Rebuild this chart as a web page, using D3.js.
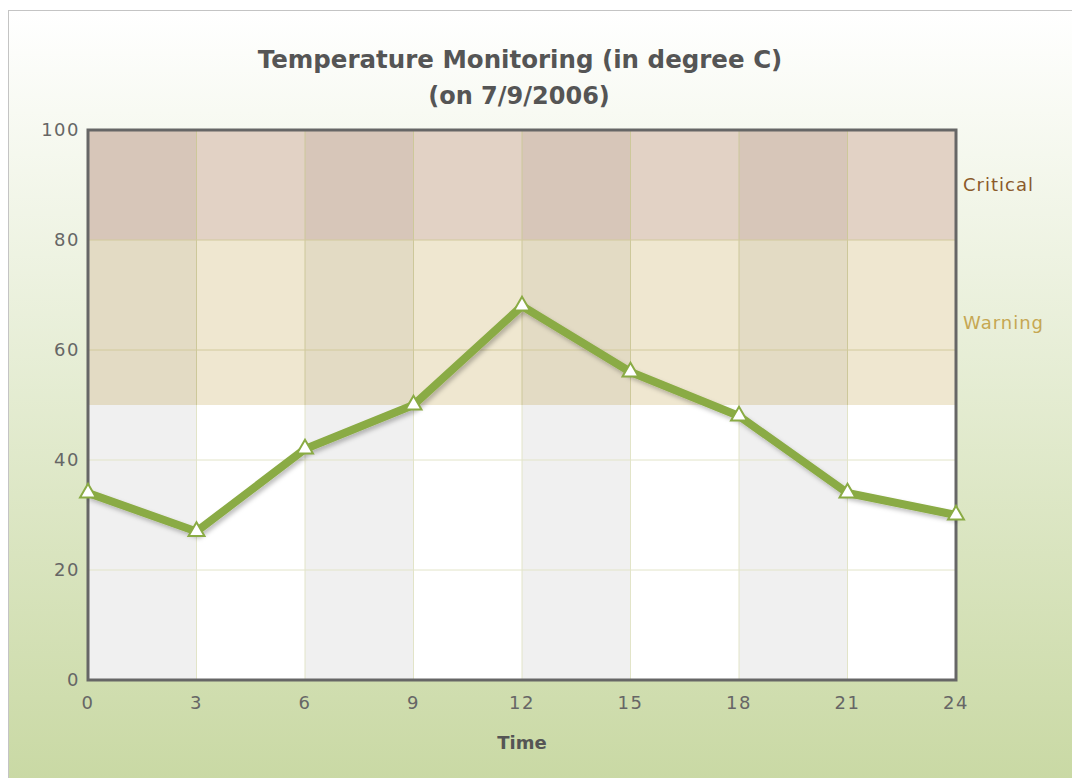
<!DOCTYPE html>
<html>
<head>
<meta charset="utf-8">
<script src="https://cdn.jsdelivr.net/npm/d3@7"></script>
<style>
  body { margin: 0; background: #fff; }
  svg { display: block; }
  text { font-family: "DejaVu Sans", Verdana, sans-serif; }
</style>
</head>
<body>
<svg width="1072" height="778"></svg>
<script>
// data
const hours = [0, 3, 6, 9, 12, 15, 18, 21, 24];
const temps = [34, 27, 42, 50, 68, 56, 48, 34, 30];
const yTicks = [0, 20, 40, 60, 80, 100];
const zones = [
  { name: "Critical", from: 80, to: 100, light: "#e2d2c5", dark: "#d7c6b9", label: "#8b5a2b" },
  { name: "Warning", from: 50, to: 80, light: "#efe7d0", dark: "#e3dbc4", label: "#c6a752" },
  { name: "", from: 0, to: 50, light: "#ffffff", dark: "#f0f0f0", label: "none" }
];
const title = "Temperature Monitoring (in degree C)";
const subtitle = "(on 7/9/2006)";
const xTitle = "Time";

const svg = d3.select("svg");
const W = 1072, H = 778;
const pLeft = 88, pRight = 956, pTop = 130, pBottom = 680;

const x = d3.scaleLinear().domain([0, 24]).range([pLeft, pRight]);
const y = d3.scaleLinear().domain([0, 100]).range([pBottom, pTop]);

// background gradient
const defs = svg.append("defs");
const bg = defs.append("linearGradient").attr("id", "bg").attr("x1", 0).attr("y1", 0).attr("x2", 0).attr("y2", 1);
bg.append("stop").attr("offset", "0%").attr("stop-color", "#ffffff");
bg.append("stop").attr("offset", "100%").attr("stop-color", "#c8d8a2");

const shadow = defs.append("filter").attr("id", "shadow").attr("x", "-10%").attr("y", "-10%").attr("width", "120%").attr("height", "130%");
shadow.append("feDropShadow").attr("dx", 2).attr("dy", 3).attr("stdDeviation", 2).attr("flood-color", "#000").attr("flood-opacity", 0.25);

svg.append("rect").attr("x", 8.5).attr("y", 10.5).attr("width", W + 10).attr("height", H + 10)
  .attr("fill", "url(#bg)").attr("stroke", "#c4c4c4");

// zone cells, alternating columns
const cols = d3.pairs(hours);
zones.forEach(z => {
  svg.append("g").selectAll("rect").data(cols).enter().append("rect")
    .attr("x", d => x(d[0]))
    .attr("y", y(z.to))
    .attr("width", d => x(d[1]) - x(d[0]))
    .attr("height", y(z.from) - y(z.to))
    .attr("fill", (d, i) => i % 2 === 0 ? z.dark : z.light);
});

// grid
svg.append("g").selectAll("line").data(hours.slice(1, -1)).enter().append("line")
  .attr("x1", d => x(d)).attr("x2", d => x(d))
  .attr("y1", pTop).attr("y2", y(50))
  .attr("stroke", "#cdc89a").attr("stroke-width", 1);
svg.append("g").selectAll("line").data(hours.slice(1, -1)).enter().append("line")
  .attr("x1", d => x(d)).attr("x2", d => x(d))
  .attr("y1", y(50)).attr("y2", pBottom)
  .attr("stroke", "#e2e4c8").attr("stroke-width", 1);
svg.append("g").selectAll("line").data(yTicks.slice(1, -1)).enter().append("line")
  .attr("x1", pLeft).attr("x2", pRight)
  .attr("y1", d => y(d)).attr("y2", d => y(d))
  .attr("stroke", d => d >= 50 ? "#d2ca9c" : "#e2e4c8").attr("stroke-width", 1);

// frame
svg.append("rect").attr("x", pLeft).attr("y", pTop).attr("width", pRight - pLeft).attr("height", pBottom - pTop)
  .attr("fill", "none").attr("stroke", "#666").attr("stroke-width", 3);

// zone labels
svg.append("g").selectAll("text").data(zones.filter(z => z.name)).enter().append("text")
  .attr("x", pRight + 7)
  .attr("y", d => y((d.from + d.to) / 2))
  .attr("dy", "0.35em")
  .attr("font-size", 18).attr("letter-spacing", 1)
  .attr("fill", d => d.label)
  .text(d => d.name);

// axes labels
svg.append("g").selectAll("text").data(yTicks).enter().append("text")
  .attr("x", pLeft - 8).attr("y", d => y(d)).attr("dy", "0.35em")
  .attr("text-anchor", "end").attr("font-size", 18).attr("letter-spacing", 1.5).attr("fill", "#666")
  .text(d => d);
svg.append("g").selectAll("text").data(hours).enter().append("text")
  .attr("x", d => x(d)).attr("y", pBottom + 23).attr("dy", "0.35em")
  .attr("text-anchor", "middle").attr("font-size", 18).attr("letter-spacing", 1.5).attr("fill", "#666")
  .text(d => d);

svg.append("text").attr("x", (pLeft + pRight) / 2).attr("y", 743).attr("dy", "0.35em")
  .attr("text-anchor", "middle").attr("font-size", 18).attr("font-weight", "bold").attr("fill", "#555")
  .text(xTitle);

svg.append("text").attr("x", 520).attr("y", 59).attr("dy", "0.35em")
  .attr("text-anchor", "middle").attr("font-size", 24.5).attr("font-weight", "bold").attr("fill", "#555")
  .text(title);
svg.append("text").attr("x", 519).attr("y", 96).attr("dy", "0.35em")
  .attr("text-anchor", "middle").attr("font-size", 24).attr("font-weight", "bold").attr("fill", "#555")
  .text(subtitle);

// line
const pts = hours.map((h, i) => [h, temps[i]]);
svg.append("path").datum(pts)
  .attr("d", d3.line().x(d => x(d[0])).y(d => y(d[1])))
  .attr("fill", "none").attr("stroke", "#8aab44").attr("stroke-width", 8)
  .attr("stroke-linejoin", "round")
  .attr("filter", "url(#shadow)");

// markers
const tri = d3.symbol().type(d3.symbolTriangle).size(110);
svg.append("g").selectAll("path").data(pts).enter().append("path")
  .attr("transform", d => `translate(${x(d[0])},${y(d[1])})`)
  .attr("d", tri)
  .attr("fill", "#fff").attr("stroke", "#8aab44").attr("stroke-width", 2);
</script>
</body>
</html>
